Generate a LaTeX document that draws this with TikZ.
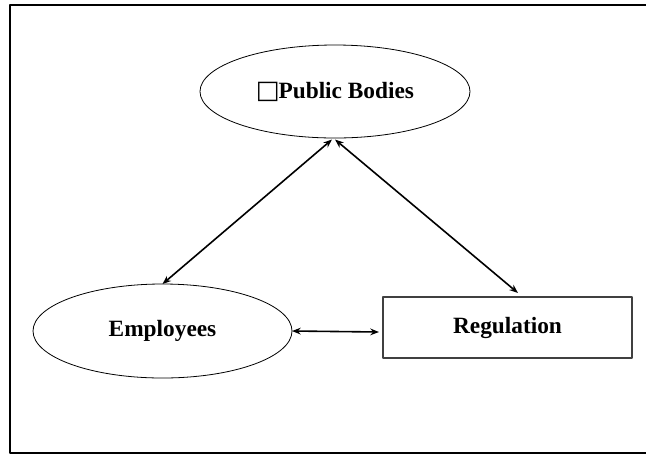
\documentclass[tikz,border=0pt]{standalone}
\usepackage{fontspec}
\setmainfont{Liberation Serif}
\newfontfamily\boxfont{DejaVu Sans}
\usetikzlibrary{arrows.meta,shapes.geometric,calc}
\begin{document}
\begin{tikzpicture}[x=0.75pt, y=-0.75pt, font=\bfseries\fontsize{17.5}{21}\selectfont, line join=round,
	dbl/.style={{Stealth[length=6.5pt,width=5pt]}-{Stealth[length=6.5pt,width=5pt]}, line width=1.2pt},
	oval/.style={draw, ellipse, line width=0.6pt, inner sep=0pt, outer sep=0pt},
	box/.style={draw=black!75, line width=0.9pt, inner sep=0pt, outer sep=0pt}]
	\def\xmax{646} \def\ymax{455}
	\useasboundingbox (0,0) rectangle (\xmax,\ymax);
	% frame
	\draw[line width=1.5pt] (660,4.5)--(9.5,4.5)--(9.5,453)--(660,453);
	\node[oval, minimum width=202.5pt, minimum height=69.75pt] (pub) at (335,91.5) {{\boxfont\fontsize{19}{21}\selectfont □}\hspace{-1pt}Public Bodies};
	\node[oval, minimum width=194.25pt, minimum height=70.5pt] (emp) at (162.5,331) {Employees};
	\node[box, minimum width=186.75pt, minimum height=45.75pt] (reg) at (507.5,327.5) {Regulation};
	\draw[dbl] ($(pub.south)+(-3,1.5)$) -- (emp.north);
	\draw[dbl] ($(pub.south)+(0,1.5)$) -- ($(reg.north)+(10.5,-4)$);
	\draw[dbl] (emp.east) -- ($(reg.west)+(-4,4.5)$);
\end{tikzpicture}
\end{document}
